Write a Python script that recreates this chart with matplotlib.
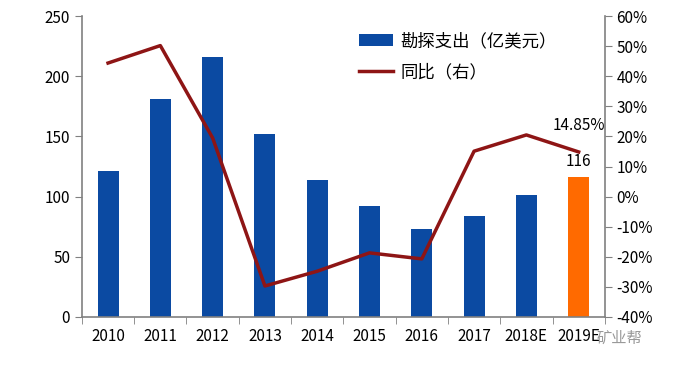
import matplotlib
matplotlib.use("Agg")
import matplotlib.pyplot as plt
import numpy as np

plt.rcParams['font.family'] = ['Noto Sans CJK SC', 'DejaVu Sans']

years = ['2010', '2011', '2012', '2013', '2014', '2015', '2016', '2017', '2018E', '2019E']
spend = [121, 181, 216, 152, 114, 92, 73, 84, 101, 116]
yoy = [44.4, 50.2, 19.5, -29.7, -24.8, -18.7, -20.7, 15.1, 20.5, 14.85]

blue = '#0B4AA2'
orange = '#FF6A00'
red = '#8E1515'
grey = '#808080'

fig = plt.figure(figsize=(7, 3.66), dpi=100)
ax = fig.add_axes([0.117, 0.134, 0.747, 0.822])
x = np.arange(len(years))
colors = [blue] * (len(years) - 1) + [orange]
bars = ax.bar(x, spend, width=0.4, color=colors, label='勘探支出（亿美元）')
ax.set_xlim(-0.5, len(years) - 0.5)
ax.set_ylim(0, 250)
ax.set_yticks(np.arange(0, 251, 50))
ax.set_xticks(x)
ax.set_xticklabels(years, fontsize=11)
ax.set_xticks(np.arange(-0.5, len(years)), minor=True)
ax.tick_params(axis='x', which='major', length=0, pad=8)
ax.tick_params(axis='x', which='minor', length=5, color=grey, direction='out')
ax.tick_params(axis='y', length=5, color=grey, labelsize=11)
for s in ['top', 'right']:
    ax.spines[s].set_visible(False)
for s in ['left', 'bottom']:
    ax.spines[s].set_color(grey)
    ax.spines[s].set_linewidth(1.2)

ax2 = ax.twinx()
line, = ax2.plot(x, yoy, color=red, lw=2.5, label='同比（右）')
ax2.set_ylim(-40, 60)
ax2.set_yticks(np.arange(-40, 61, 10))
ax2.set_yticklabels([f'{v}%' for v in range(-40, 61, 10)])
ax2.tick_params(axis='y', length=5, color=grey, labelsize=11)
for s in ['top', 'left', 'bottom']:
    ax2.spines[s].set_visible(False)
ax2.spines['right'].set_color(grey)
ax2.spines['right'].set_linewidth(1.2)

ax.text(x[-1], spend[-1] + 6, f'{spend[-1]}', ha='center', va='bottom', fontsize=11)
ax2.text(x[-1], yoy[-1] + 8.8, f'{yoy[-1]:.2f}%', ha='center', va='center', fontsize=11)

fig.legend(handles=[bars, line], loc='upper left', bbox_to_anchor=(0.49, 0.955),
           frameon=False, fontsize=12.5, handlelength=2.0, labelspacing=0.75,
           handletextpad=0.4)

fig.text(0.885, 0.075, '矿业帮', color='#999999', fontsize=11, ha='center', va='center')

fig.savefig('out.png', dpi=100)
